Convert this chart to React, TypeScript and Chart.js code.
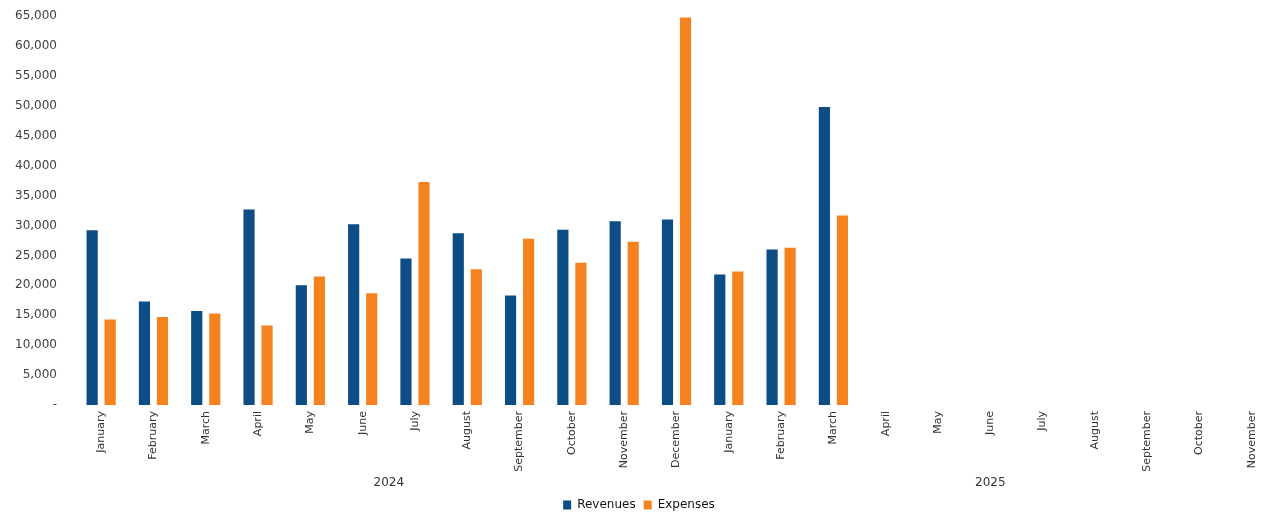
import React, { useEffect, useRef } from "react";
import { Chart, registerables } from "chart.js";

Chart.register(...registerables);

const months: string[] = [
  "January", "February", "March", "April", "May", "June", "July", "August",
  "September", "October", "November", "December",
  "January", "February", "March", "April", "May", "June", "July", "August",
  "September", "October", "November",
];

const revenues: (number | null)[] = [
  29200, 17300, 15700, 32700, 20000, 30200, 24500, 28700, 18300, 29300, 30700, 31000,
  21800, 26000, 49800, null, null, null, null, null, null, null, null,
];

const expenses: (number | null)[] = [
  14300, 14700, 15300, 13300, 21500, 18700, 37300, 22700, 27800, 23800, 27300, 64800,
  22300, 26300, 31700, null, null, null, null, null, null, null, null,
];

const yearGroups = [
  { label: "2024", start: 0, end: 11 },
  { label: "2025", start: 12, end: 22 },
];

const FONT = "'DejaVu Sans', sans-serif";

const yearPlugin = {
  id: "yearLabels",
  afterDraw(chart: any) {
    const x = chart.scales.x;
    const ctx = chart.ctx;
    ctx.save();
    ctx.font = "12px " + FONT;
    ctx.fillStyle = "#333333";
    ctx.textAlign = "center";
    ctx.textBaseline = "middle";
    for (const g of yearGroups) {
      const cx = (x.getPixelForValue(g.start) + x.getPixelForValue(g.end)) / 2;
      ctx.fillText(g.label, cx, chart.chartArea.bottom + 78);
    }
    ctx.restore();
  },
};

export default function App() {
  const ref = useRef<HTMLCanvasElement | null>(null);
  useEffect(() => {
    if (!ref.current) return;
    const chart = new Chart(ref.current, {
      type: "bar",
      data: {
        labels: months,
        datasets: [
          {
            label: "Revenues",
            data: revenues,
            backgroundColor: "#0C4D85",
            barPercentage: 0.62,
            categoryPercentage: 0.69,
          },
          {
            label: "Expenses",
            data: expenses,
            backgroundColor: "#F5821F",
            barPercentage: 0.62,
            categoryPercentage: 0.69,
          },
        ],
      },
      options: {
        animation: false,
        responsive: true,
        maintainAspectRatio: false,
        layout: { padding: 0 },
        plugins: {
          legend: {
            position: "bottom",
            labels: {
              font: { family: FONT, size: 12 },
              color: "#111111",
              boxWidth: 8,
              boxHeight: 9,
              padding: 8,
            },
          },
          tooltip: { enabled: false },
        },
        scales: {
          x: {
            grid: { display: false, drawTicks: false },
            border: { display: false },
            ticks: {
              autoSkip: false,
              maxRotation: 90,
              minRotation: 90,
              padding: 6,
              font: { family: FONT, size: 11 },
              color: "#333333",
            },
            afterFit: (scale: any) => {
              scale.height = 86;
            },
          },
          y: {
            min: 0,
            max: 65000,
            grid: { display: false, drawTicks: false },
            border: { display: false },
            ticks: {
              stepSize: 5000,
              padding: 18,
              font: { family: FONT, size: 12 },
              color: "#404040",
              callback: (v: any) => (Number(v) === 0 ? "-" : Number(v).toLocaleString("en-US")),
            },
            afterFit: (scale: any) => {
              scale.width = 75;
            },
          },
        },
      },
      plugins: [yearPlugin],
    });
    return () => chart.destroy();
  }, []);

  return (
    <div style={{ position: "absolute", left: 0, top: -9, width: 1278, height: 530, background: "#ffffff" }}>
      <canvas ref={ref} />
    </div>
  );
}
